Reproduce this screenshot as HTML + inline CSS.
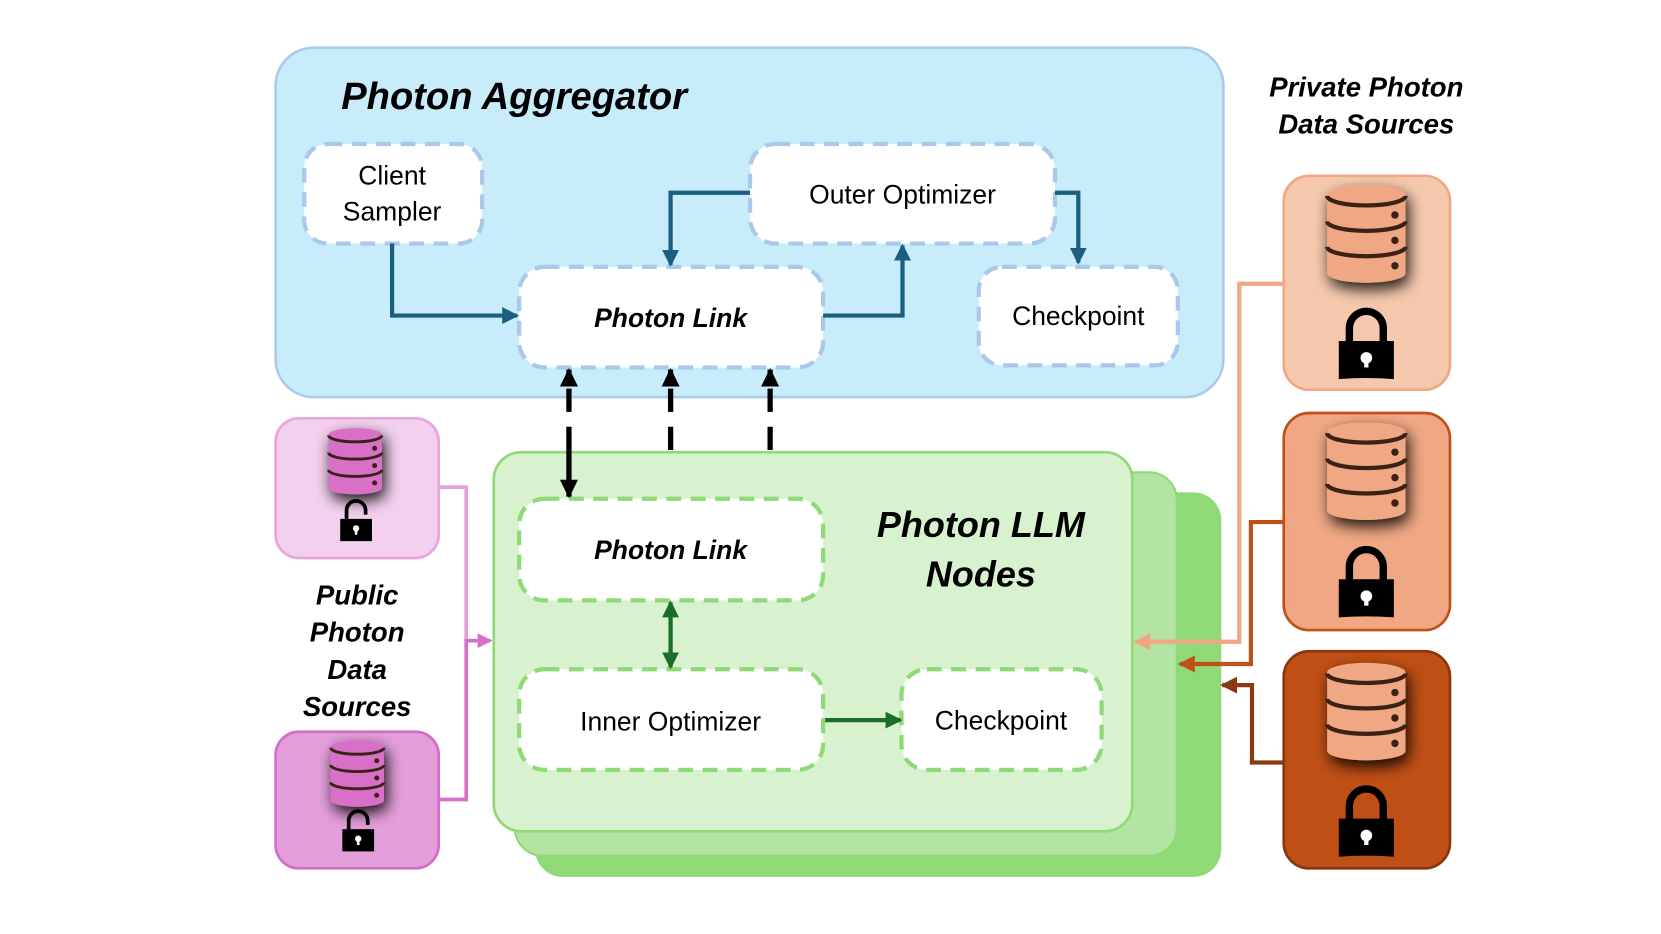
<!DOCTYPE html>
<html><head><meta charset="utf-8"><style>
html,body{margin:0;padding:0;background:#fff;}
svg{display:block;}
text{font-family:"Liberation Sans",sans-serif;}
.t{font-size:25px;fill:#000;text-anchor:middle;}
.bi{font-weight:bold;font-style:italic;}
</style></head><body>
<svg width="1661" height="934" viewBox="0 0 1568 882" xmlns="http://www.w3.org/2000/svg">
<defs>
<filter id="sh" x="-50%" y="-50%" width="200%" height="200%">
<feGaussianBlur in="SourceAlpha" stdDeviation="7"/><feOffset dx="3" dy="6"/>
<feComponentTransfer><feFuncA type="linear" slope="0.9"/></feComponentTransfer>
<feMerge><feMergeNode/><feMergeNode in="SourceGraphic"/></feMerge></filter>
<marker id="ab" markerWidth="5" markerHeight="5" refX="3.5" refY="2" orient="auto-start-reverse" markerUnits="strokeWidth"><path d="M0,0 L4,2 L0,4 Z" fill="#1a5e80"/></marker>
<marker id="ak" markerWidth="5" markerHeight="5" refX="3.2" refY="1.7" orient="auto-start-reverse" markerUnits="strokeWidth"><path d="M0,0 L3.5,1.7 L0,3.4 Z" fill="#000"/></marker>
<marker id="ag" markerWidth="5" markerHeight="5" refX="3.5" refY="2" orient="auto-start-reverse" markerUnits="strokeWidth"><path d="M0,0 L4,2 L0,4 Z" fill="#1a6e2a"/></marker>
<marker id="ap" markerWidth="5" markerHeight="5" refX="3.5" refY="2" orient="auto" markerUnits="strokeWidth"><path d="M0,0 L4,2 L0,4 Z" fill="#d870c8"/></marker>
<marker id="ao1" markerWidth="5" markerHeight="5" refX="3.5" refY="2" orient="auto" markerUnits="strokeWidth"><path d="M0,0 L4,2 L0,4 Z" fill="#f0a884"/></marker>
<marker id="ao2" markerWidth="5" markerHeight="5" refX="3.5" refY="2" orient="auto" markerUnits="strokeWidth"><path d="M0,0 L4,2 L0,4 Z" fill="#c0501a"/></marker>
<marker id="ao3" markerWidth="5" markerHeight="5" refX="3.5" refY="2" orient="auto" markerUnits="strokeWidth"><path d="M0,0 L4,2 L0,4 Z" fill="#8a3a12"/></marker>
<g id="db">
<path d="M0,8 V82 A37,9 0 0 0 74,82 V8 Z"/>
<ellipse cx="37" cy="8" rx="37" ry="9"/>
<path d="M0,9 A37,9 0 0 0 74,9 M0,33 A37,9 0 0 0 74,33 M0,57 A37,9 0 0 0 74,57" fill="none" stroke="#3a2418" stroke-width="4"/>
<circle cx="64" cy="27" r="3.5" fill="#3a2418"/><circle cx="64" cy="51" r="3.5" fill="#3a2418"/><circle cx="64" cy="75" r="3.5" fill="#3a2418"/>
</g>
<g id="lock">
<path d="M-16,22 V-4 A16,16 0 0 1 16,-4 V22" fill="none" stroke="#000" stroke-width="7"/>
<path d="M-26,8 H26 V44 Q0,42 -26,44 Z" fill="#000"/>
<circle cx="0" cy="24" r="5.5" fill="#fff"/><rect x="-2" y="24" width="4" height="9" fill="#fff"/>
</g>
<g id="ulock">
<path d="M-9,0 V-8 A9,9 0 0 1 9,-8 V-4" fill="none" stroke="#000" stroke-width="3.5"/>
<rect x="-15" y="0" width="30" height="21" fill="#000"/>
<circle cx="0" cy="9" r="3" fill="#fff"/><rect x="-1.2" y="9" width="2.4" height="6" fill="#fff"/>
</g>
</defs>

<!-- Aggregator -->
<rect x="260" y="45" width="895" height="330" rx="36" fill="#c9ecfb" stroke="#a9cbe9" stroke-width="2.5"/>
<text x="322" y="103" class="bi" font-size="36">Photon Aggregator</text>
<g fill="#fff" stroke="#a9c8ea" stroke-width="4" stroke-dasharray="14 9">
<rect x="287" y="136" width="168" height="94" rx="22"/>
<rect x="708" y="136" width="288" height="94" rx="24"/>
<rect x="490" y="252" width="287" height="95" rx="24"/>
<rect x="924" y="252" width="188" height="93" rx="22"/>
</g>
<text x="370" y="174" class="t">Client</text>
<text x="370" y="208" class="t">Sampler</text>
<text x="852" y="192" class="t">Outer Optimizer</text>
<text x="633" y="309" class="t bi">Photon Link</text>
<text x="1018" y="307" class="t">Checkpoint</text>
<g fill="none" stroke="#1a5e80" stroke-width="4">
<path d="M370,230 V298 H488" marker-end="url(#ab)"/>
<path d="M708,182 H633 V250" marker-end="url(#ab)"/>
<path d="M777,298 H852 V232" marker-end="url(#ab)"/>
<path d="M996,182 H1018 V248" marker-end="url(#ab)"/>
</g>

<!-- LLM nodes -->
<rect x="505" y="465" width="648" height="363" rx="26" fill="#8fd977"/>
<rect x="486" y="446" width="625" height="362" rx="26" fill="#b3e4a2" stroke="#8fd977" stroke-width="2"/>
<rect x="466" y="427" width="603" height="358" rx="26" fill="#d8f1cf" stroke="#8fd977" stroke-width="2.5"/>
<g fill="#fff" stroke="#8fd977" stroke-width="4" stroke-dasharray="14 9">
<rect x="490" y="471" width="287" height="96" rx="24"/>
<rect x="490" y="632" width="287" height="95" rx="24"/>
<rect x="851" y="632" width="189" height="95" rx="24"/>
</g>
<text x="633" y="528" class="t bi">Photon Link</text>
<text x="633" y="690" class="t">Inner Optimizer</text>
<text x="945" y="689" class="t">Checkpoint</text>
<text x="926" y="507" class="bi" font-size="34" text-anchor="middle">Photon LLM</text>
<text x="926" y="554" class="bi" font-size="34" text-anchor="middle">Nodes</text>
<g fill="none" stroke="#1a6e2a" stroke-width="4">
<path d="M633,569 V630" marker-start="url(#ag)" marker-end="url(#ag)"/>
<path d="M779,680 H850" marker-end="url(#ag)"/>
</g>

<!-- dashed black arrows -->
<g fill="none" stroke="#000" stroke-width="5">
<path d="M537,425 V349" stroke-dasharray="22 14" marker-end="url(#ak)"/>
<path d="M537,440 V469" marker-end="url(#ak)"/>
<path d="M537,425 V440" stroke-dasharray="22 14"/>
<path d="M633,425 V349" stroke-dasharray="22 14" marker-end="url(#ak)"/>
<path d="M727,425 V349" stroke-dasharray="22 14" marker-end="url(#ak)"/>
</g>

<!-- Public sources -->
<rect x="260" y="395" width="154" height="132" rx="22" fill="#f2d0ee" stroke="#e6a6dd" stroke-width="2.5"/>
<rect x="260" y="691" width="154" height="129" rx="22" fill="#e39ed9" stroke="#d46cc8" stroke-width="2.5"/>
<g fill="#d870c8" filter="url(#sh)"><use href="#db" transform="translate(310,405) scale(0.68)"/></g>
<g fill="#d870c8" filter="url(#sh)"><use href="#db" transform="translate(312,700) scale(0.68)"/></g>
<use href="#ulock" transform="translate(336,490)"/>
<use href="#ulock" transform="translate(338,783)"/>
<path d="M414,460 H440 V605" fill="none" stroke="#e8a0dc" stroke-width="3.5"/>
<path d="M414,755 H440 V605 H463" fill="none" stroke="#d870c8" stroke-width="3.5" marker-end="url(#ap)"/>
<g class="bi" font-size="26" text-anchor="middle">
<text x="337" y="571">Public</text><text x="337" y="606">Photon</text><text x="337" y="641">Data</text><text x="337" y="676">Sources</text>
</g>

<!-- Private sources -->
<g class="bi" font-size="26" text-anchor="middle">
<text x="1290" y="91">Private Photon</text><text x="1290" y="126">Data Sources</text>
</g>
<rect x="1212" y="166" width="157" height="202" rx="24" fill="#f5c8ad" stroke="#f0a884" stroke-width="2.5"/>
<rect x="1212" y="390" width="157" height="205" rx="24" fill="#f0a884" stroke="#c0501a" stroke-width="2.5"/>
<rect x="1212" y="615" width="157" height="205" rx="24" fill="#c04f15" stroke="#8a3510" stroke-width="2.5"/>
<g fill="#f0a884" filter="url(#sh)"><use href="#db" transform="translate(1253,176)"/></g>
<g fill="#f0a884" filter="url(#sh)"><use href="#db" transform="translate(1253,400)"/></g>
<g fill="#f0a884" filter="url(#sh)"><use href="#db" transform="translate(1253,627)"/></g>
<use href="#lock" transform="translate(1290,314)"/>
<use href="#lock" transform="translate(1290,539)"/>
<use href="#lock" transform="translate(1290,765)"/>
<g fill="none" stroke-width="4">
<path d="M1212,268 H1170 V606 H1072" stroke="#f0a884" marker-end="url(#ao1)"/>
<path d="M1212,493 H1181 V627 H1114" stroke="#c0501a" marker-end="url(#ao2)"/>
<path d="M1212,720 H1182 V647 H1154" stroke="#8a3a12" marker-end="url(#ao3)"/>
</g>
</svg>
</body></html>
